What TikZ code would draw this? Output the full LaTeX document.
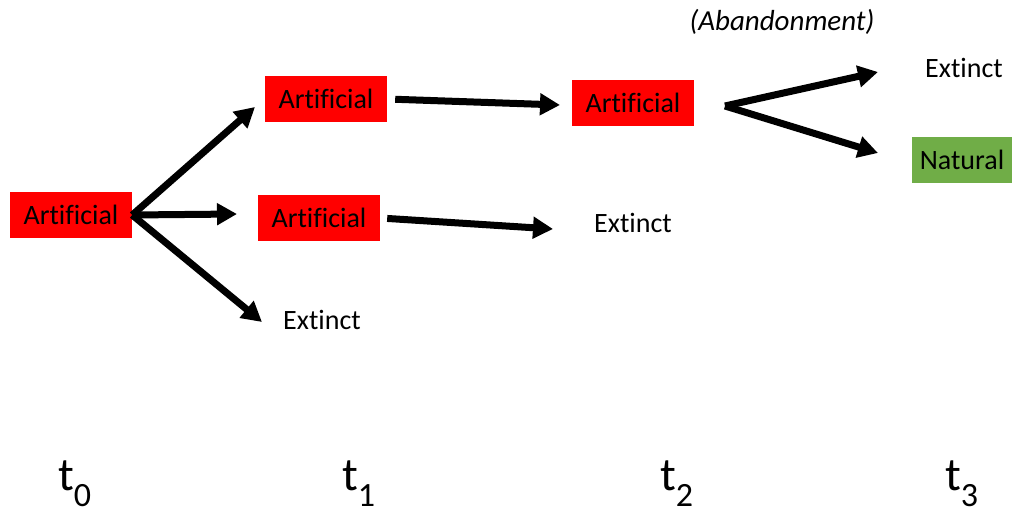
\documentclass[tikz,border=0pt]{standalone}
\usepackage{fontspec}
\setmainfont{Carlito}[Ligatures=NoCommon]
\usetikzlibrary{arrows.meta}
\definecolor{natgreen}{HTML}{70AD47}
\newcommand{\timelabel}[1]{t\raisebox{-16pt}{\fontsize{34}{40}\selectfont #1}}
\begin{document}
\begin{tikzpicture}
		[x=1pt,y=-1pt,
		redbox/.style={fill=red,inner sep=0pt,minimum width=122pt,minimum height=46pt,
font=\fontsize{28}{32}\selectfont},
		greenbox/.style={fill=natgreen,inner sep=0pt,minimum width=100pt,minimum height=46pt,
font=\fontsize{28}{32}\selectfont},
		textstyle/.style={inner sep=0pt,font=\fontsize{28}{32}\selectfont},
		timestyle/.style={inner sep=0pt,anchor=base west,font=\fontsize{47}{52}\selectfont},
		edgestyle/.style={-{Triangle[length=20pt,width=21pt]},line width=7pt}]
		\useasboundingbox (0,0) rectangle (1012,513);
		% boxes and states
		\node at (71,215) (art0) [redbox] {Artificial};
		\node at (326,99) (art1) [redbox] {Artificial};
		\node at (319,218) (art2) [redbox] {Artificial};
		\node at (322,320) (ext1) [textstyle] {Extinct};
		\node at (633,103) (art3) [redbox] {Artificial};
		\node at (633,223) (ext2) [textstyle] {Extinct};
		\node at (964,68) (ext3) [textstyle] {Extinct};
		\node at (962,160) (nat) [greenbox] {Natural};
		\node at (782,22) (aband) [textstyle,font=\fontsize{29}{34}\selectfont\itshape] {(Abandonment)};
		% arrow tips
		\coordinate (tipA) at (255,107);
		\coordinate (tipB) at (237,214);
		\coordinate (tipC) at (262,322);
		\coordinate (tipD) at (560,105);
		\coordinate (tipE) at (553,229);
		\coordinate (fork) at (725,106);
		\coordinate (tipF) at (878,72);
		\coordinate (tipG) at (878,153);
		\draw[edgestyle] (art0.east) -- (tipA);
		\draw[edgestyle] (art0.east) -- (tipB);
		\draw[edgestyle] (art0.east) -- (tipC);
		\draw[edgestyle,shorten <=8pt] (art1.east) -- (tipD);
		\draw[edgestyle,shorten <=7pt] (art2.east) -- (tipE);
		\draw[edgestyle] (fork) -- (tipF);
		\draw[edgestyle] (fork) -- (tipG);
		% time axis
		\node at (58,490) (time0) [timestyle] {\timelabel{0}};
		\node at (342,490) (time1) [timestyle] {\timelabel{1}};
		\node at (660,490) (time2) [timestyle] {\timelabel{2}};
		\node at (945,490) (time3) [timestyle] {\timelabel{3}};
	\end{tikzpicture}
\end{document}
